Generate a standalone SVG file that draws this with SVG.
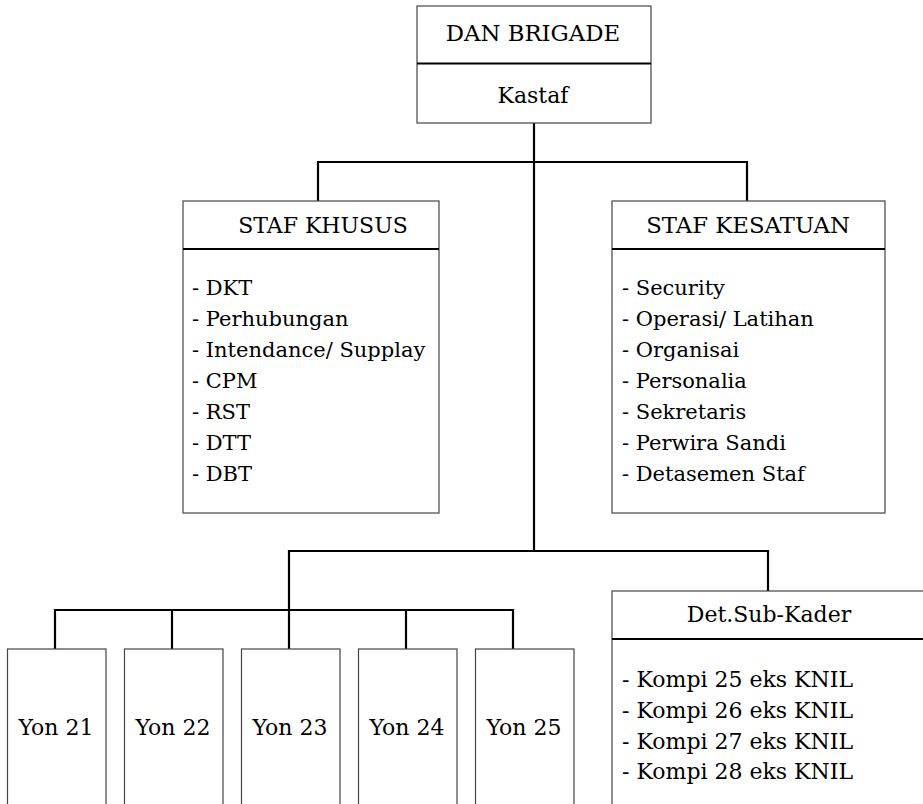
<svg xmlns="http://www.w3.org/2000/svg" width="923" height="804" viewBox="0 0 923 804">
  <style>
    .box { fill: #ffffff; stroke: #444444; stroke-width: 1.2; }
    .div { stroke: #000000; stroke-width: 2.2; }
    .wire { fill: none; stroke: #000000; stroke-width: 2.2; }
    .t { font-family: 'DejaVu Serif', 'Liberation Serif', serif; font-size: 22px; fill: #000000; }
    .h { font-size: 22.8px; }
    .li { font-size: 21px; }
    .c { text-anchor: middle; }
  </style>
  <rect width="923" height="804" fill="#ffffff"/>

  <!-- connectors -->
  <g id="connectors">
    <path class="wire" d="M534 123 V551"/>
    <path class="wire" d="M318 201 V162 H747 V201"/>
    <path class="wire" d="M289 649 V551 H768 V591"/>
    <path class="wire" d="M55 649 V610 H513 V649"/>
    <path class="wire" d="M172 610 V649"/>
    <path class="wire" d="M406 610 V649"/>
  </g>

  <g class="t">
    <!-- commander and chief of staff -->
    <g id="dan-brigade">
      <rect class="box" x="417" y="6" width="234" height="117"/>
      <line class="div" x1="417" y1="63.5" x2="651" y2="63.5"/>
      <text class="c h" x="533" y="41">DAN BRIGADE</text>
      <text class="c" x="533" y="103">Kastaf</text>
    </g>

    <!-- special staff -->
    <g id="staf-khusus">
      <rect class="box" x="183" y="201" width="256" height="312"/>
      <line class="div" x1="183" y1="249" x2="439" y2="249"/>
      <text class="c" x="323" y="233">STAF KHUSUS</text>
      <g class="li">
        <text x="192" y="295">- DKT</text>
        <text x="192" y="326">- Perhubungan</text>
        <text x="192" y="357">- Intendance/ Supplay</text>
        <text x="192" y="388">- CPM</text>
        <text x="192" y="419">- RST</text>
        <text x="192" y="450">- DTT</text>
        <text x="192" y="481">- DBT</text>
      </g>
    </g>

    <!-- unit staff -->
    <g id="staf-kesatuan">
      <rect class="box" x="612" y="201" width="273" height="312"/>
      <line class="div" x1="612" y1="249" x2="885" y2="249"/>
      <text class="c h" x="748" y="233">STAF KESATUAN</text>
      <g class="li">
        <text x="622" y="295">- Security</text>
        <text x="622" y="326">- Operasi/ Latihan</text>
        <text x="622" y="357">- Organisai</text>
        <text x="622" y="388">- Personalia</text>
        <text x="622" y="419">- Sekretaris</text>
        <text x="622" y="450">- Perwira Sandi</text>
        <text x="622" y="481">- Detasemen Staf</text>
      </g>
    </g>

    <!-- battalions -->
    <g id="yon-21">
      <rect class="box" x="7.5" y="649" width="98.5" height="170"/>
      <text class="c" x="56" y="735">Yon 21</text>
    </g>
    <g id="yon-22">
      <rect class="box" x="124.5" y="649" width="98.5" height="170"/>
      <text class="c" x="173" y="735">Yon 22</text>
    </g>
    <g id="yon-23">
      <rect class="box" x="241.5" y="649" width="98.5" height="170"/>
      <text class="c" x="290" y="735">Yon 23</text>
    </g>
    <g id="yon-24">
      <rect class="box" x="358.5" y="649" width="98.5" height="170"/>
      <text class="c" x="407" y="735">Yon 24</text>
    </g>
    <g id="yon-25">
      <rect class="box" x="475.5" y="649" width="98.5" height="170"/>
      <text class="c" x="524" y="735">Yon 25</text>
    </g>

    <!-- cadre detachment -->
    <g id="det-sub-kader">
      <rect class="box" x="612" y="591" width="330" height="230"/>
      <line class="div" x1="612" y1="639" x2="942" y2="639"/>
      <text class="c" x="769" y="622">Det.Sub-Kader</text>
      <text x="622" y="687">- Kompi 25 eks KNIL</text>
      <text x="622" y="718">- Kompi 26 eks KNIL</text>
      <text x="622" y="749">- Kompi 27 eks KNIL</text>
      <text x="622" y="779">- Kompi 28 eks KNIL</text>
    </g>
  </g>
</svg>
